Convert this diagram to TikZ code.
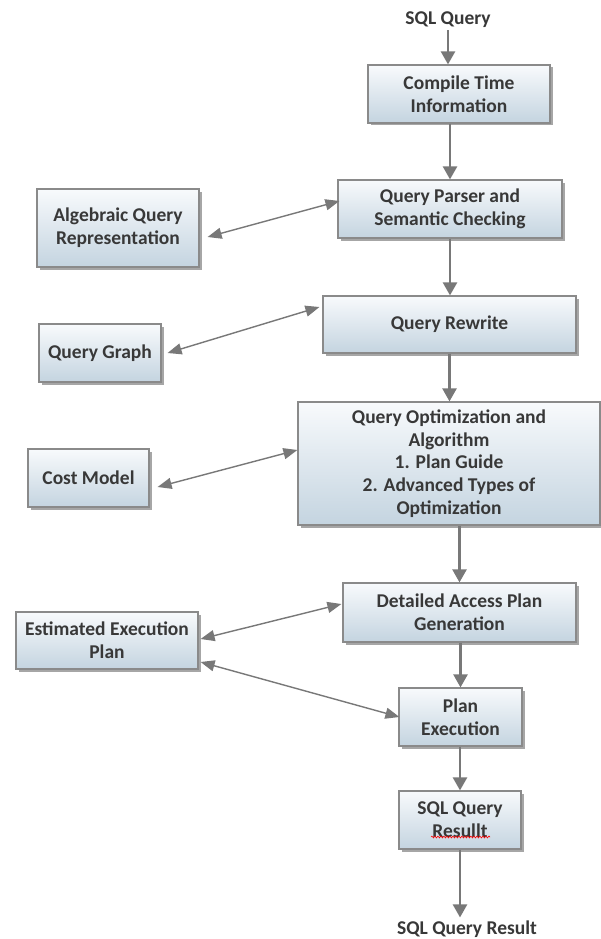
\documentclass[tikz,border=0pt]{standalone}
\usepackage{fontspec}
\setmainfont{Carlito}
\usetikzlibrary{arrows.meta,shadows,calc,decorations.pathmorphing}
\definecolor{boxborder}{HTML}{8A8A8A}
\definecolor{boxtop}{HTML}{F8FAFC}
\definecolor{boxbot}{HTML}{C4D4E0}
\definecolor{txt}{HTML}{383838}
\definecolor{arrowc}{HTML}{787878}
\begin{document}
\begin{tikzpicture}[x=1pt,y=-1pt,
  lbl/.style={font=\fontsize{19.5}{22.7}\selectfont\bfseries, text=txt, align=center},
  box/.style={lbl, draw=boxborder, line width=1.2pt, top color=boxtop, bottom color=boxbot,
    drop shadow={shadow xshift=2.5pt, shadow yshift=-2.5pt, fill=black, opacity=0.35},
    inner sep=0pt},
  varr/.style={draw=arrowc, line width=2.4pt, -{Triangle[length=13pt,width=14pt]}},
  darr/.style={draw=arrowc, line width=1.4pt, {Triangle[length=14pt,width=11pt]}-{Triangle[length=14pt,width=11pt]}}
]
\useasboundingbox[fill=white] (0,0) rectangle (601,939);

\node[lbl, inner sep=2pt] (sqlin) at (448,20) {SQL Query};
\node[box, minimum width=182pt, minimum height=58pt] (compile) at (459,94) {Compile Time\\Information};
\node[box, minimum width=224pt, minimum height=58pt] (parser) at (450,209) {Query Parser and\\Semantic Checking};
\node[box, minimum width=162pt, minimum height=78pt] (alg) at (118,228) {Algebraic Query\\Representation};
\node[box, minimum width=253pt, minimum height=57pt] (rewrite) at (449.5,324.5) {Query Rewrite};
\node[box, minimum width=122pt, minimum height=58pt] (graph) at (100,353) {Query Graph};
\node[box, minimum width=302pt, minimum height=123pt] (opt) at (449,463.5) {Query Optimization and\\Algorithm\\1. Plan Guide\\2. Advanced Types of\\Optimization};
\node[box, minimum width=121pt, minimum height=58pt] (cost) at (88.5,478) {Cost Model};
\node[box, minimum width=233pt, minimum height=59pt] (detailed) at (459.5,612.5) {Detailed Access Plan\\Generation};
\node[box, minimum width=182pt, minimum height=57pt] (est) at (107,640.5) {Estimated Execution\\Plan};
\node[box, minimum width=123pt, minimum height=58pt] (planexec) at (460.5,717) {Plan\\Execution};
\node[box, minimum width=122pt, minimum height=58pt] (result) at (460,820) {SQL Query\\Resullt};
\node[lbl, inner sep=2pt] (sqlout) at (467,929) {SQL Query Result};

\draw[red, line width=0.6pt, decorate, decoration={snake, amplitude=0.9pt, segment length=3pt}]
  ($(result.center)+(-29,17)$) -- ($(result.center)+(30,17)$);

% vertical flow
\draw[varr] (sqlin.south) -- (sqlin.south |- compile.north);
\draw[varr] (compile.south -| parser.north) -- (parser.north);
\draw[varr] (parser.south) -- (parser.south |- rewrite.north);
\draw[varr] (rewrite.south) -- (rewrite.south |- opt.north);
\draw[varr] (opt.south -| detailed.north) -- (detailed.north);
\draw[varr] (detailed.south -| planexec.north) -- (planexec.north);
\draw[varr] (planexec.south -| result.north) -- (result.north);
\draw[varr] (result.south) -- ([yshift=1pt]result.south |- sqlout.north);

% side links
\draw[darr] ([xshift=8pt,yshift=-9pt]alg.east) -- ([xshift=2pt,yshift=8pt]parser.west);
\draw[darr] ([xshift=6pt]graph.east) -- ([xshift=-3pt,yshift=17.5pt]rewrite.west);
\draw[darr] ([xshift=8pt,yshift=-9pt]cost.east) -- ([yshift=13.5pt]opt.west);
\draw[darr] ([xshift=2pt,yshift=1.5pt]est.east) -- ([xshift=-1pt,yshift=8.5pt]detailed.west);
\draw[darr] ([xshift=2pt,yshift=-21.5pt]est.east) -- ([xshift=1pt]planexec.west);
\end{tikzpicture}
\end{document}
